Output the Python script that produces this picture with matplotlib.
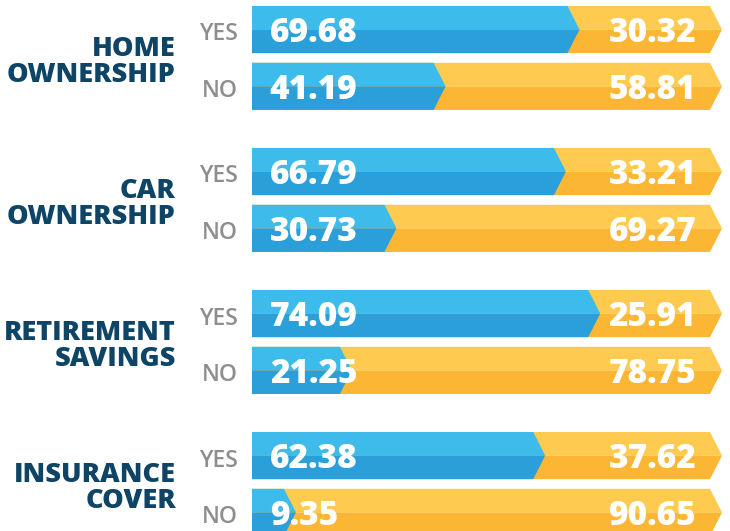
import matplotlib.pyplot as plt
from matplotlib.patches import Polygon

# Data
groups = ["HOME\nOWNERSHIP", "CAR\nOWNERSHIP", "RETIREMENT\nSAVINGS", "INSURANCE\nCOVER"]
answers = ["YES", "NO"]
blue_vals = [[69.68, 41.19], [66.79, 30.73], [74.09, 21.25], [62.38, 9.35]]
yellow_vals = [[30.32, 58.81], [33.21, 69.27], [25.91, 78.75], [37.62, 90.65]]

# Colours
blue_top, blue_bot = "#3dbbeb", "#2b9fd9"
yel_top, yel_bot = "#fecb50", "#fbb633"
navy = "#0e4466"
grey = "#8e8e8e"

plt.rcParams['font.family'] = ['Open Sans', 'DejaVu Sans']

fig = plt.figure(figsize=(7.3, 5.31), dpi=100)
ax = fig.add_axes([0, 0, 1, 1])
ax.set_xlim(-53.62, 101.70)
ax.set_ylim(3.331, -0.408)
ax.axis('off')

half = 0.166   # half bar height (group units)
off = 0.2      # yes/no offset from group centre
tip = 2.55     # chevron depth (value units)


def arrow(x0, x1, yc, ctop, cbot):
    # two-tone chevron bar from x0 to x1, top half light, bottom half dark
    top, bot = yc - half, yc + half
    a = [(x0, top), (x1 - tip, top), (x1, yc), (x0, yc)]
    b = [(x0, yc), (x1, yc), (x1 - tip, bot), (x0, bot)]
    ax.add_patch(Polygon(a, closed=True, fc=ctop, ec='none', lw=0))
    ax.add_patch(Polygon(b, closed=True, fc=cbot, ec='none', lw=0))


for g, name in enumerate(groups):
    for r, ans in enumerate(answers):
        yc = g + (off if r else -off)
        bv = blue_vals[g][r]
        yv = yellow_vals[g][r]
        arrow(0, bv + yv, yc, yel_top, yel_bot)
        arrow(0, bv, yc, blue_top, blue_bot)
        base = yc + 0.088
        ax.text(3.8, base, f"{bv:.2f}", color='white', fontsize=24,
                fontweight=800, ha='left', va='baseline')
        ax.text(94.5, base, f"{yv:.2f}", color='white', fontsize=24,
                fontweight=800, ha='right', va='baseline')
        ax.text(-3.0, yc + 0.077, ans, color=grey, fontsize=16.5,
                fontweight=600, ha='right', va='baseline')
    lines = name.split("\n")
    for i, line in enumerate(lines):
        ax.text(-16.2, g - 0.015 + i * 0.185, line, color=navy, fontsize=19.5,
                fontweight=800, ha='right', va='baseline')

fig.savefig("out.png", dpi=100)
